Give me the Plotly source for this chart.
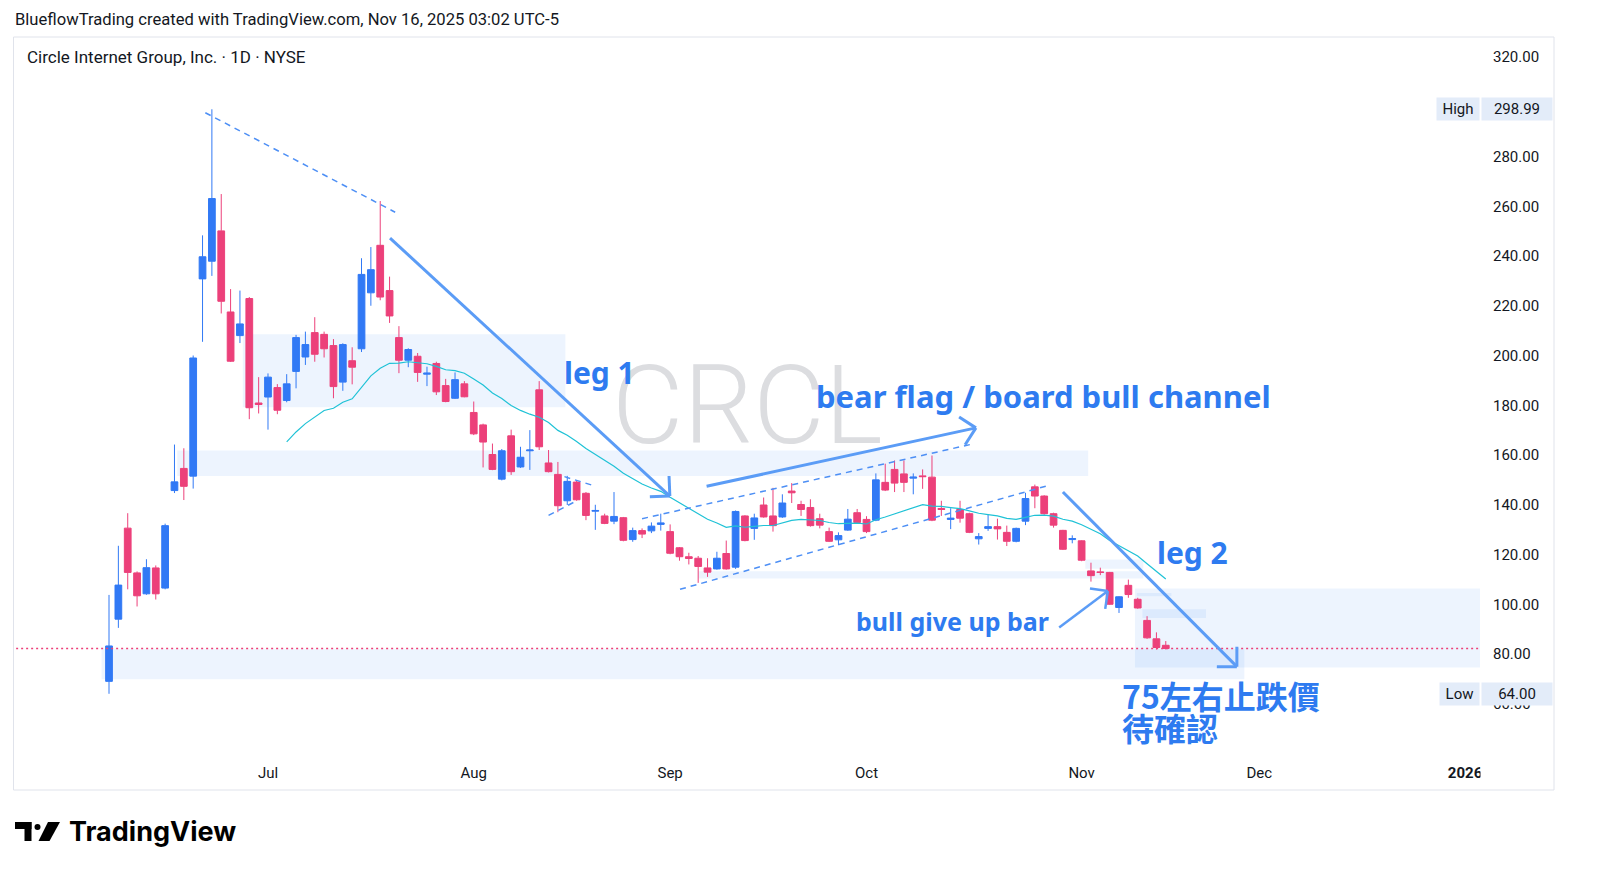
import math
import pandas as pd
import plotly.graph_objects as go

# ---------------- data ----------------
holidays = ["2025-05-26", "2025-06-19", "2025-07-04", "2025-09-01",
            "2025-11-27", "2025-12-25", "2026-01-01"]
first_day = "2025-06-05"

opens = [69.00, 94.0, 130.6, 112.6, 104.2, 114.6, 106.5, 145.7, 154.6, 151.5,
         230.8, 237.9, 250.1, 217.5, 208.0, 222.9, 180.9, 183.3, 187.1, 181.9,
         193.6, 199.4, 209.2, 208.5, 204.0, 189.3, 197.9, 202.7, 225.2, 244.3,
         226.1, 207.2, 198.1, 199.7, 192.5, 196.8, 187.9, 182.8, 188.6, 177.1,
         172.1, 160.2, 150.3, 167.7, 155.2, 161.7, 186.2, 156.8, 152.2, 141.6,
         149.1, 144.6, 137.4, 135.5, 133.4, 134.8, 126.0, 129.6, 129.5, 132.1,
         129.2, 122.7, 119.1, 118.5, 114.6, 114.2, 120.4, 114.9, 135.5, 130.5,
         139.9, 135.5, 135.1, 145.5, 140.1, 138.9, 134.4, 129.2, 125.9, 129.8,
         136.8, 134.1, 133.8, 149.0, 154.2, 152.4, 150.7, 151.6, 151.1, 138.5,
         134.1, 138.1, 136.4, 126.3, 130.5, 131.2, 128.9, 125.3, 133.4, 147.2,
         143.5, 136.4, 129.7, 126.0, 125.5, 113.4, 113.0, 112.8, 98.7, 107.6,
         102.0, 93.5, 86.1, 83.5]
highs = [103.75, 123.5, 136.6, 113.2, 118.1, 115.6, 132.4, 164.2, 162.7, 200.0,
         248.3, 298.99, 264.9, 226.7, 226.1, 223.5, 191.3, 192.8, 188.5, 192.5,
         208.3, 209.6, 215.4, 209.6, 206.6, 204.9, 203.3, 239.1, 243.6, 262.1,
         231.7, 211.8, 202.9, 201.0, 195.5, 197.5, 190.6, 193.2, 189.7, 181.5,
         172.6, 164.6, 162.4, 170.2, 163.3, 170.0, 189.7, 162.0, 157.2, 151.6,
         149.6, 145.1, 140.0, 136.4, 145.1, 135.1, 130.8, 130.5, 132.9, 136.4,
         132.1, 123.0, 120.7, 119.4, 118.5, 121.1, 125.6, 137.7, 135.8, 136.4,
         142.9, 146.8, 144.2, 148.7, 141.6, 142.2, 136.4, 130.8, 128.9, 138.3,
         138.3, 135.4, 152.6, 156.5, 157.8, 157.8, 152.6, 154.2, 159.8, 141.6,
         138.6, 141.6, 136.8, 128.6, 136.0, 134.4, 131.6, 130.8, 144.8, 148.1,
         143.8, 136.8, 129.9, 127.7, 125.7, 116.7, 114.7, 113.0, 103.2, 109.9,
         102.6, 95.2, 88.7, 85.2]
lows = [64.00, 90.5, 106.0, 99.1, 103.8, 101.9, 106.0, 144.7, 141.9, 146.5,
        205.5, 232.0, 216.9, 197.4, 205.0, 174.4, 176.7, 170.2, 176.4, 181.2,
        186.8, 196.2, 197.5, 199.2, 182.8, 185.8, 188.4, 201.4, 220.0, 222.2,
        213.1, 192.9, 195.3, 189.4, 187.7, 184.1, 181.2, 182.5, 183.2, 168.0,
        155.0, 153.9, 149.8, 152.0, 154.8, 154.0, 162.0, 153.0, 137.0, 139.9,
        141.6, 133.8, 129.9, 132.2, 132.2, 125.3, 125.1, 126.6, 128.6, 129.6,
        120.1, 117.5, 116.0, 108.6, 111.0, 113.9, 113.9, 114.2, 125.3, 125.9,
        134.8, 129.2, 134.7, 140.7, 135.5, 131.2, 130.5, 125.0, 123.7, 129.5,
        132.5, 128.6, 133.4, 145.5, 145.1, 145.1, 144.2, 146.4, 133.4, 135.5,
        130.2, 132.8, 128.6, 124.0, 129.5, 126.0, 123.4, 124.9, 131.8, 138.6,
        136.0, 130.8, 121.8, 124.5, 117.3, 109.1, 111.7, 99.8, 96.5, 102.6,
        98.2, 86.1, 81.8, 81.8]
closes = [83.23, 107.7, 112.8, 103.4, 114.7, 104.2, 131.6, 149.2, 147.4, 199.0,
          239.7, 263.1, 221.8, 197.7, 212.7, 179.0, 180.3, 191.3, 178.0, 188.6,
          207.2, 204.4, 200.5, 202.7, 187.5, 204.4, 195.3, 232.6, 234.5, 223.5,
          215.9, 198.1, 202.4, 193.2, 192.9, 185.4, 181.5, 190.3, 183.4, 168.5,
          165.2, 154.2, 161.7, 153.3, 159.1, 162.0, 163.3, 153.3, 139.6, 149.4,
          142.0, 135.7, 137.7, 132.5, 135.3, 125.7, 129.6, 128.2, 131.4, 132.7,
          120.5, 119.1, 118.4, 115.2, 112.9, 118.5, 114.2, 137.3, 125.6, 134.7,
          135.1, 131.6, 140.7, 144.8, 138.1, 131.6, 131.8, 125.3, 127.6, 134.2,
          132.9, 129.2, 150.0, 145.9, 148.7, 149.0, 151.1, 151.3, 133.8, 138.1,
          134.6, 134.6, 128.9, 127.2, 131.2, 130.3, 125.3, 130.5, 142.5, 143.5,
          136.4, 131.8, 122.1, 126.4, 117.7, 111.5, 112.8, 100.0, 103.0, 103.9,
          98.5, 86.5, 82.6, 82.2]

ema_length = 20
high_value, low_value = 298.99, 64.00

month_ticks = ["2025-07-01", "2025-08-01", "2025-09-02", "2025-10-01",
               "2025-11-03", "2025-12-01", "2026-01-02"]
month_labels = ["Jul", "Aug", "Sep", "Oct", "Nov", "Dec", "<b>2026</b>"]
price_ticks = [60, 80, 100, 120, 140, 160, 180, 200, 220, 240, 260, 280, 300, 320]

# ---------------- trading calendar ----------------
calendar = [d for d in pd.bdate_range("2025-05-12", "2026-01-30")
            if d.strftime("%Y-%m-%d") not in holidays]
cal_str = [d.strftime("%Y-%m-%d") for d in calendar]
i0 = cal_str.index(first_day)
n = len(closes)
dates = cal_str[i0:i0 + n]


def tx(idx):
    k = math.floor(idx)
    f = idx - k
    d = calendar[i0 + k] + pd.Timedelta(days=f)
    return d.strftime("%Y-%m-%d %H:%M:%S")


# EMA 20 (TradingView style: seeded with SMA of first 20 closes)
ema = [None] * n
ema[ema_length - 1] = sum(closes[:ema_length]) / ema_length
alpha = 2 / (ema_length + 1)
for i in range(ema_length, n):
    ema[i] = ema[i - 1] + alpha * (closes[i] - ema[i - 1])

# ---------------- layout geometry ----------------
W, H = 1600, 890
L_PX, R_PX, T_PX, B_PX = 14, 1480, 38, 757
X_RANGE = (-10.16, 146.6)
Y_RANGE = (38.59, 327.64)
PXB = (R_PX - L_PX) / (X_RANGE[1] - X_RANGE[0])
PXU = (B_PX - T_PX) / (Y_RANGE[1] - Y_RANGE[0])


def px(x):
    return (x - L_PX) / (R_PX - L_PX)


def py(y):
    return (B_PX - y) / (B_PX - T_PX)


UP = "#3179f5"
DOWN = "#ec407a"
TXT = "#131722"
BLUE_TXT = "#2e7bf0"
ARROW = "#5b9cf6"
DASH = "#4d8ff5"
BAND = "rgba(50,130,240,0.09)"

fig = go.Figure()
fig.add_trace(go.Candlestick(
    x=dates, open=opens, high=highs, low=lows, close=closes,
    increasing=dict(line=dict(color=UP, width=1), fillcolor=UP),
    decreasing=dict(line=dict(color=DOWN, width=1), fillcolor=DOWN),
    whiskerwidth=0, hoverinfo="skip", name="CRCL"))
fig.add_trace(go.Scatter(
    x=dates, y=ema, mode="lines", line=dict(color="#1fc2d6", width=1.2),
    hoverinfo="skip", name="EMA 20"))

shapes = []
annotations = []


def band(ia, ib, p_top, p_bot):
    shapes.append(dict(type="rect", xref="x", yref="y", x0=tx(ia), x1=tx(ib),
                       y0=p_bot, y1=p_top, fillcolor=BAND, line=dict(width=0),
                       layer="below"))


def seg(ia, pa, ib, pb, color, width, dash="solid"):
    shapes.append(dict(type="line", xref="x", yref="y", x0=tx(ia), y0=pa,
                       x1=tx(ib), y1=pb, line=dict(color=color, width=width, dash=dash),
                       layer="above"))


def arrow(ia, pa, ib, pb, color=ARROW, width=3, head=20):
    seg(ia, pa, ib, pb, color, width)
    dx = (ib - ia) * PXB
    dy = -(pb - pa) * PXU
    ln = math.hypot(dx, dy)
    ux, uy = -dx / ln, -dy / ln
    for ang in (45, -45):
        a = math.radians(ang)
        rx = ux * math.cos(a) - uy * math.sin(a)
        ry = ux * math.sin(a) + uy * math.cos(a)
        seg(ib, pb, ib + rx * head / PXB, pb - ry * head / PXU, color, width)


# rectangles (zones)
band(14.3, 48.8, 208.5, 179.2)
band(7.3, 104.7, 161.8, 151.6)
band(63.0, 110.6, 113.3, 110.3)
band(104.4, 110.6, 118.0, 114.3)
band(109.7, 160.0, 106.3, 74.6)
band(-0.8, 121.4, 81.9, 69.8)
band(109.9, 113.6, 104.5, 103.2)
band(110.5, 117.3, 98.0, 94.5)

# last price line
shapes.append(dict(type="line", xref="x", yref="y", x0=tx(-11), x1=tx(150),
                   y0=closes[-1], y1=closes[-1],
                   line=dict(color=DOWN, width=1.3, dash="2px,3px"), layer="above"))

# dashed trend lines
DASHP = "6px,5px"
seg(10.3, 297.6, 30.6, 257.6, DASH, 1.5, DASHP)
seg(57.0, 134.4, 92.2, 164.3, DASH, 1.5, DASHP)
seg(61.06, 106.0, 100.3, 147.6, DASH, 1.5, DASHP)
seg(47.0, 135.7, 50.0, 141.6, DASH, 1.5, DASHP)
seg(48.7, 151.3, 51.8, 147.7, DASH, 1.5, DASHP)

# arrows
arrow(30.05, 247.2, 59.97, 143.5)
arrow(63.9, 147.4, 92.7, 170.9)
arrow(102.0, 145.1, 120.6, 74.9)
arrow(101.6, 90.7, 106.8, 105.3, width=2.5, head=18)

# chart frame
shapes.append(dict(type="rect", xref="paper", yref="paper",
                   x0=px(13.5), x1=px(1554), y0=py(790), y1=py(37),
                   line=dict(color="#e0e3eb", width=1), fillcolor="rgba(0,0,0,0)",
                   layer="below"))
# hide the part of the year label that runs under the price scale
shapes.append(dict(type="rect", xref="paper", yref="paper",
                   x0=px(1480.5), x1=px(1553), y0=py(786), y1=py(759),
                   line=dict(width=0), fillcolor="white", layer="above"))

# TradingView logo icon
shapes.append(dict(type="rect", xref="paper", yref="paper",
                   x0=px(15), x1=px(31.5), y0=py(829), y1=py(822),
                   fillcolor="#000000", line=dict(width=0)))
shapes.append(dict(type="rect", xref="paper", yref="paper",
                   x0=px(24.5), x1=px(31.5), y0=py(841), y1=py(822),
                   fillcolor="#000000", line=dict(width=0)))
shapes.append(dict(type="circle", xref="paper", yref="paper",
                   x0=px(34.5), x1=px(40.5), y0=py(830), y1=py(824),
                   fillcolor="#000000", line=dict(width=0)))
shapes.append(dict(type="path", xref="paper", yref="paper",
                   path="M %f,%f L %f,%f L %f,%f L %f,%f Z" % (
                       px(48), py(822), px(60), py(822), px(49.5), py(841),
                       px(38.5), py(841)),
                   fillcolor="#000000", line=dict(width=0)))

# ---------------- texts ----------------
annotations.append(dict(xref="paper", yref="paper", x=px(13), y=py(20),
                        xanchor="left", yanchor="middle", showarrow=False,
                        text="BlueflowTrading created with TradingView.com, Nov 16, 2025 03:02 UTC-5",
                        font=dict(family="Roboto", size=16.6, color=TXT)))
annotations.append(dict(xref="paper", yref="paper", x=px(25), y=py(57),
                        xanchor="left", yanchor="middle", showarrow=False,
                        text="Circle Internet Group, Inc. · 1D · NYSE",
                        font=dict(family="Roboto", size=17, color=TXT)))
annotations.append(dict(xref="paper", yref="paper", x=px(747), y=py(405),
                        xanchor="center", yanchor="middle", showarrow=False,
                        text="CRCL",
                        font=dict(family="Roboto", size=110, color="#dcdde0", weight=300)))
annotations.append(dict(xref="paper", yref="paper", x=px(67), y=py(831),
                        xanchor="left", yanchor="middle", showarrow=False,
                        text="TradingView",
                        font=dict(family="Inter", size=27, color="#000000", weight=700)))


def blue_text(i, p, text, size, xanchor="center", family="Noto Sans"):
    annotations.append(dict(xref="x", yref="y", x=tx(i), y=p, xanchor=xanchor,
                            yanchor="middle", showarrow=False, text=text,
                            font=dict(family=family, size=size, color=BLUE_TXT, weight=700)))


blue_text(52.5, 193.0, "leg 1", 30)
blue_text(99.9, 183.7, "bear flag / board bull channel", 31)
blue_text(115.9, 121.0, "leg 2", 30)
blue_text(90.2, 93.3, "bull give up bar", 25)
blue_text(108.1, 63.5, "75左右止跌價", 32, "left", "Noto Sans CJK TC")
blue_text(108.1, 50.7, "待確認", 32, "left", "Noto Sans CJK TC")

LABEL_BG = "#e3ecf9"
for word, val in (("High", high_value), ("Low", low_value)):
    annotations.append(dict(xref="paper", yref="y", x=1.0, y=val, xanchor="right",
                            yanchor="middle", showarrow=False, text=word,
                            bgcolor=LABEL_BG, borderpad=3, height=16,
                            width=36 if word == "High" else 33,
                            font=dict(family="Roboto", size=15, color=TXT)))
    annotations.append(dict(xref="paper", yref="y", x=px(1481), y=val, xanchor="left",
                            yanchor="middle", showarrow=False, text="%.2f" % val,
                            bgcolor=LABEL_BG, borderpad=3, height=16, width=64,
                            font=dict(family="Roboto", size=15, color=TXT)))

fig.update_layout(
    width=W, height=H,
    margin=dict(l=L_PX, r=W - R_PX, t=T_PX, b=H - B_PX),
    paper_bgcolor="white", plot_bgcolor="white",
    showlegend=False, hovermode=False,
    boxgap=0.28, boxgroupgap=0,
    shapes=shapes, annotations=annotations,
    xaxis=dict(
        type="date",
        range=[tx(X_RANGE[0]), tx(X_RANGE[1])],
        rangebreaks=[dict(bounds=["sat", "mon"]), dict(values=holidays)],
        rangeslider=dict(visible=False),
        tickmode="array", tickvals=month_ticks, ticktext=month_labels,
        showgrid=False, zeroline=False, showline=False, ticks="",
        ticklabelstandoff=5,
        tickfont=dict(family="Roboto", size=15, color=TXT),
    ),
    yaxis=dict(
        side="right", range=list(Y_RANGE),
        tickmode="array", tickvals=price_ticks,
        ticktext=["%.2f" % v for v in price_ticks],
        showgrid=False, zeroline=False, showline=False, ticks="",
        ticklabelstandoff=12,
        tickfont=dict(family="Roboto", size=15, color=TXT),
    ),
)

fig.write_html("out.html", config={"displayModeBar": False},
               post_script="document.body.style.margin='0px';document.body.style.overflow='hidden';")
